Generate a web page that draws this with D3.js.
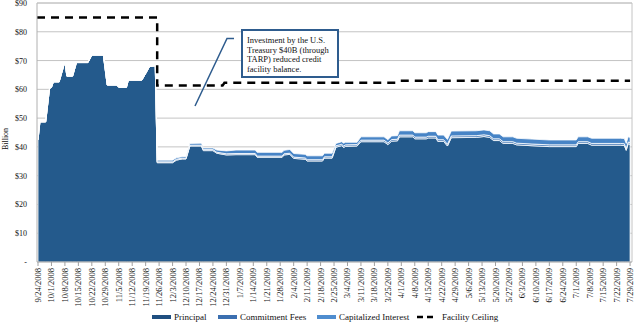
<!DOCTYPE html>
<html><head><meta charset="utf-8">
<script src="https://cdn.jsdelivr.net/npm/d3@7"></script>
<style>body{margin:0;background:#fff}svg{display:block}text{font-family:"Liberation Serif","DejaVu Serif",serif;fill:#111}</style>
</head><body><svg id="c" width="635" height="327"></svg>
<script>
// ---- data (values in $ billion) ----
const dates = ["2008-09-24","2008-09-25","2008-09-28","2008-09-30","2008-10-01","2008-10-02","2008-10-05","2008-10-08","2008-10-09","2008-10-12","2008-10-14","2008-10-20","2008-10-22","2008-10-28","2008-10-30","2008-11-04","2008-11-05","2008-11-09","2008-11-10","2008-11-17","2008-11-19","2008-11-21","2008-11-24",
"2008-11-25","2008-12-03","2008-12-05","2008-12-08","2008-12-10","2008-12-12","2008-12-18","2008-12-19","2008-12-24","2008-12-26","2008-12-31","2009-01-05","2009-01-15","2009-01-16","2009-01-29","2009-01-30","2009-02-02","2009-02-04","2009-02-10","2009-02-11","2009-02-19","2009-02-20","2009-02-24","2009-02-26","2009-03-01","2009-03-02","2009-03-03","2009-03-09","2009-03-11","2009-03-23","2009-03-25","2009-03-27","2009-03-30","2009-03-31","2009-04-07","2009-04-08","2009-04-14","2009-04-15","2009-04-19","2009-04-20","2009-04-23","2009-04-25","2009-04-27","2009-05-10","2009-05-14","2009-05-17","2009-05-19","2009-05-22","2009-05-24","2009-05-29","2009-05-31","2009-06-08","2009-06-17","2009-07-01","2009-07-02","2009-07-07","2009-07-09","2009-07-24","2009-07-26","2009-07-27","2009-07-28","2009-07-29"];
const principal = [42.4,48.7,48.7,60.3,60.7,62.6,62.6,69.6,64.6,64.6,69.3,69.3,71.9,71.9,61.5,61.5,60.7,60.7,63.2,63.2,65.5,67.9,68.2,
34.5,34.5,35.4,35.8,35.8,40.3,40.3,38.7,38.7,37.8,37.2,37.3,37.3,36.4,36.4,37.2,37.4,36.0,35.7,35.1,35.1,36.1,36.1,39.9,40.4,39.8,40.2,40.3,41.8,41.8,40.8,42.0,42.1,43.5,43.5,42.8,42.8,43.1,43.1,41.9,41.9,40.3,43.2,43.3,43.6,43.3,42.2,42.2,41.2,41.2,40.7,40.4,40.1,40.1,41.2,41.2,40.6,40.6,40.5,38.8,41.1,40.9];
const commitmentFees = [0,0,0,0,0,0,0,0,0,0,0,0,0,0,0,0,0,0,0,0,0,0,0,
0.3,0.3,0.3,0.3,0.3,0.3,0.3,0.35,0.35,0.35,0.4,0.4,0.4,0.4,0.4,0.4,0.4,0.45,0.45,0.45,0.45,0.45,0.45,0.5,0.5,0.5,0.5,0.5,0.55,0.55,0.55,0.55,0.55,0.6,0.6,0.6,0.6,0.6,0.6,0.6,0.6,0.6,0.6,0.6,0.6,0.6,0.6,0.6,0.6,0.6,0.6,0.6,0.6,0.6,0.6,0.6,0.6,0.6,0.6,0.6,0.6,0.6];
const capitalizedInterest = [0,0,0,0,0,0,0,0,0,0,0,0,0,0,0,0,0,0,0,0,0,0,0,
0.6,0.6,0.5,0.5,0.6,0.6,0.7,0.55,0.55,0.75,1.0,1.2,1.2,1.3,1.3,1.2,1.3,1.25,1.25,1.35,1.35,1.25,1.25,0.8,0.9,1.0,0.9,0.8,1.15,1.15,1.15,1.25,1.25,1.5,1.5,1.5,1.5,1.6,1.6,1.6,1.6,1.7,1.7,1.7,1.7,1.7,1.7,1.7,1.7,1.7,1.7,1.7,1.7,1.7,1.7,1.7,1.8,1.8,1.8,1.8,1.8,1.8];
const ceilingDates = ["2008-09-24","2008-11-25","2008-11-25","2008-12-29","2008-12-30","2009-03-29","2009-03-31","2009-07-29"];
const ceiling = [85,85,61.3,61.3,62.3,62.3,63.0,63.0];
const tickLabels = ["9/24/2008","10/1/2008","10/8/2008","10/15/2008","10/22/2008","10/29/2008","11/5/2008","11/12/2008","11/19/2008","11/26/2008","12/3/2008","12/10/2008","12/17/2008","12/24/2008","12/31/2008","1/7/2009","1/14/2009","1/21/2009","1/28/2009","2/4/2009","2/11/2009","2/18/2009","2/25/2009","3/4/2009","3/11/2009","3/18/2009","3/25/2009","4/1/2009","4/8/2009","4/15/2009","4/22/2009","4/29/2009","5/6/2009","5/13/2009","5/20/2009","5/27/2009","6/3/2009","6/10/2009","6/17/2009","6/24/2009","7/1/2009","7/8/2009","7/15/2009","7/22/2009","7/29/2009"];
const yTicks = [0,10,20,30,40,50,60,70,80,90];
const seriesNames = ["Principal","Commitment Fees","Capitalized Interest","Facility Ceiling"];
const annotationLines = ["Investment by the U.S.","Treasury $40B (through","TARP) reduced credit","facility balance."];

// ---- drawing ----
const svg = d3.select("#c");
const parse = d3.timeParse("%Y-%m-%d");
const parseTick = d3.timeParse("%m/%d/%Y");
const L = 37, R = 632, T = 3, B = 262;
const x = d3.scaleTime().domain([parse("2008-09-24"), parse("2009-07-30")]).range([38, R]);
const y = d3.scaleLinear().domain([0, 90]).range([B, T]);
const colors = ["#245a8c", "#3a70b0", "#4784c6"];

// gridlines
svg.append("g").selectAll("line").data(yTicks.filter(d => d > 0)).join("line")
  .attr("x1", L).attr("x2", R).attr("y1", d => y(d)).attr("y2", d => y(d))
  .attr("stroke", "#c4c4c4").attr("stroke-width", 1);

// stacked areas
const rows = dates.map((d, i) => ({date: parse(d), p: principal[i], f: commitmentFees[i], c: capitalizedInterest[i]}));
const stack = d3.stack().keys(["p", "f", "c"]);
const layers = stack(rows);
const area = d3.area().x(d => x(d.data.date)).y0(d => y(d[0])).y1(d => y(d[1]));
svg.append("g").selectAll("path").data(layers).join("path")
  .attr("d", area).attr("fill", (d, i) => colors[i])
  .attr("stroke", "#ffffff").attr("stroke-width", 0.8).attr("stroke-linejoin", "round");

// ceiling
const cdata = ceilingDates.map((d, i) => ({date: parse(d), v: ceiling[i]}));
cdata[0].date = x.invert(L);
svg.append("path").datum(cdata)
  .attr("d", d3.line().x(d => x(d.date)).y(d => y(d.v)))
  .attr("fill", "none").attr("stroke", "#000").attr("stroke-width", 2.5).attr("stroke-dasharray", "8,6");

// axes frame
svg.append("line").attr("x1", L).attr("x2", L).attr("y1", T).attr("y2", B).attr("stroke", "#b0b0b0");
svg.append("line").attr("x1", R).attr("x2", R).attr("y1", T).attr("y2", B).attr("stroke", "#c4c4c4");
svg.append("line").attr("x1", L).attr("x2", R).attr("y1", T).attr("y2", T).attr("stroke", "#c4c4c4");
svg.append("line").attr("x1", L).attr("x2", R).attr("y1", B).attr("y2", B).attr("stroke", "#a0a0a0");

// y labels
svg.append("g").selectAll("text").data(yTicks).join("text")
  .attr("x", 27).attr("y", d => y(d) + 3).attr("text-anchor", "end")
  .attr("font-size", "8px").text(d => d === 0 ? "-" : "$" + d);
svg.append("text").attr("transform", "translate(8,139) rotate(-90)")
  .attr("text-anchor", "middle").attr("font-size", "8px").text("Billion");

// x ticks
const xt = svg.append("g");
xt.selectAll("line").data(tickLabels).join("line")
  .attr("x1", d => x(parseTick(d))).attr("x2", d => x(parseTick(d)))
  .attr("y1", B).attr("y2", B + 4).attr("stroke", "#a0a0a0");
xt.selectAll("text").data(tickLabels).join("text")
  .attr("transform", d => `translate(${x(parseTick(d)) + 3},${B + 6}) rotate(-90)`)
  .attr("text-anchor", "end").attr("font-size", "8.5px").text(d => d);

// annotation
svg.append("polyline").attr("points", "195,106 227,38.5 234,38.5")
  .attr("fill", "none").attr("stroke", "#2e5c8e").attr("stroke-width", 1.5);
svg.append("rect").attr("x", 242).attr("y", 30).attr("width", 96).attr("height", 47)
  .attr("fill", "#fff").attr("stroke", "#2e5c8e").attr("stroke-width", 2);
svg.append("g").selectAll("text").data(annotationLines).join("text")
  .attr("x", 247).attr("y", (d, i) => 43 + i * 9.5).attr("font-size", "8.5px").text(d => d);

// legend
const legX = [152, 218, 317, 417];
const lg = svg.append("g");
seriesNames.forEach((n, i) => {
  if (i < 3) {
    lg.append("rect").attr("x", legX[i]).attr("y", 315).attr("width", 19).attr("height", 4).attr("fill", ["#1f4f80", "#3b6fb0", "#4f8dcf"][i]);
  } else {
    lg.append("line").attr("x1", legX[i]).attr("x2", legX[i] + 17).attr("y1", 317).attr("y2", 317)
      .attr("stroke", "#000").attr("stroke-width", 2.5).attr("stroke-dasharray", "6,4");
  }
  lg.append("text").attr("x", legX[i] + (i < 3 ? 22 : 25)).attr("y", 320).attr("font-size", "9px").text(n);
});
</script></body></html>
